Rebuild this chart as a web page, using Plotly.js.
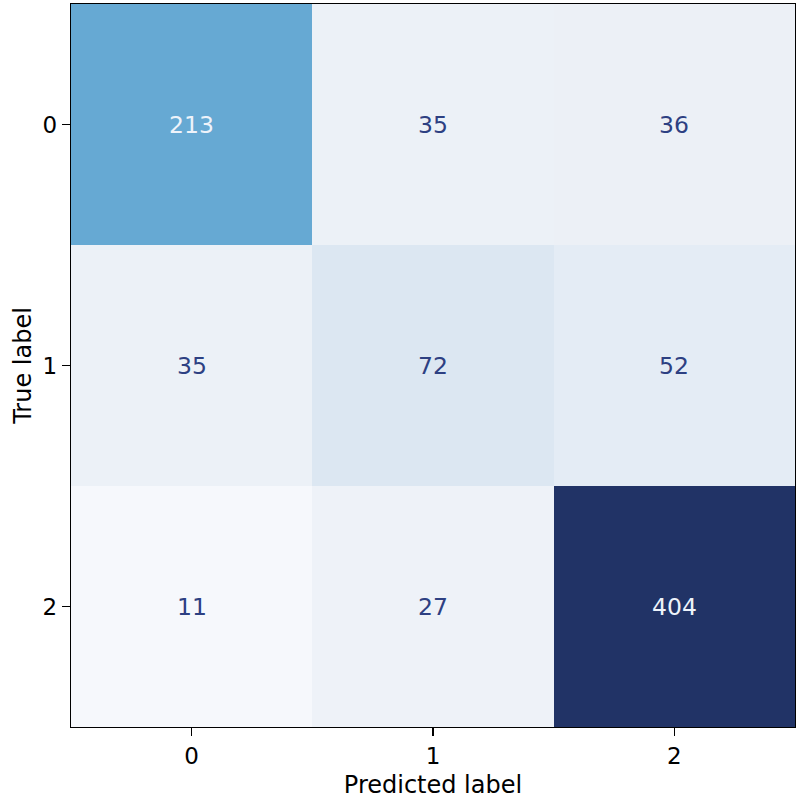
<!DOCTYPE html>
<html><head><meta charset="utf-8">
<script src="https://cdn.plot.ly/plotly-3.0.1.min.js"></script>
<style>body{margin:0;background:#fff}#c{width:800px;height:799px}</style>
</head><body><div id="c"></div>
<script>
const predictedLabels = ['0','1','2'];
const trueLabels = ['0','1','2'];
const row0 = [213, 35, 36];
const row1 = [35, 72, 52];
const row2 = [11, 27, 404];
const z = [row0, row1, row2];

const zmin = 11, zmax = 404;
const colorscale = [
  [0, '#f6f8fc'], [0.04, '#eef2f8'], [0.07, '#ebf0f6'], [0.105, '#e4ecf5'],
  [0.16, '#dbe6f2'], [0.514, '#66a9d3'], [1, '#213366']
];
const annotations = [];
const thresh = (zmin + zmax) / 2;
z.forEach((row, i) => row.forEach((v, j) => {
  annotations.push({
    x: predictedLabels[j], y: trueLabels[i], text: String(v), showarrow: false,
    font: {family: 'DejaVu Sans', size: 23.5, color: v > thresh * 0.9 ? '#eef3fa' : '#2d4082'}
  });
}));

const data = [{
  type: 'heatmap', x: predictedLabels, y: trueLabels, z: z,
  zmin: zmin, zmax: zmax, colorscale: colorscale, showscale: false, xgap: 0, ygap: 0,
  hoverinfo: 'skip'
}];
const axisCommon = {
  showline: true, mirror: true, linecolor: '#000', linewidth: 1.3,
  ticks: 'outside', ticklen: 8, tickwidth: 1.3, tickcolor: '#000',
  showgrid: false, zeroline: false,
  tickfont: {family: 'DejaVu Sans', size: 23, color: '#000'}
};
const layout = {
  width: 800, height: 799,
  margin: {l: 71, r: 5, t: 4, b: 72},
  paper_bgcolor: '#fff', plot_bgcolor: '#fff',
  xaxis: Object.assign({}, axisCommon, {type: 'category',
    title: {text: 'Predicted label', font: {family: 'DejaVu Sans', size: 24, color: '#000'}, standoff: 14}}),
  yaxis: Object.assign({}, axisCommon, {type: 'category', autorange: 'reversed',
    title: {text: 'True label', font: {family: 'DejaVu Sans', size: 24, color: '#000'}, standoff: 4}}),
  annotations: annotations
};
Plotly.newPlot('c', data, layout, {displayModeBar: false, staticPlot: true});
</script></body></html>
